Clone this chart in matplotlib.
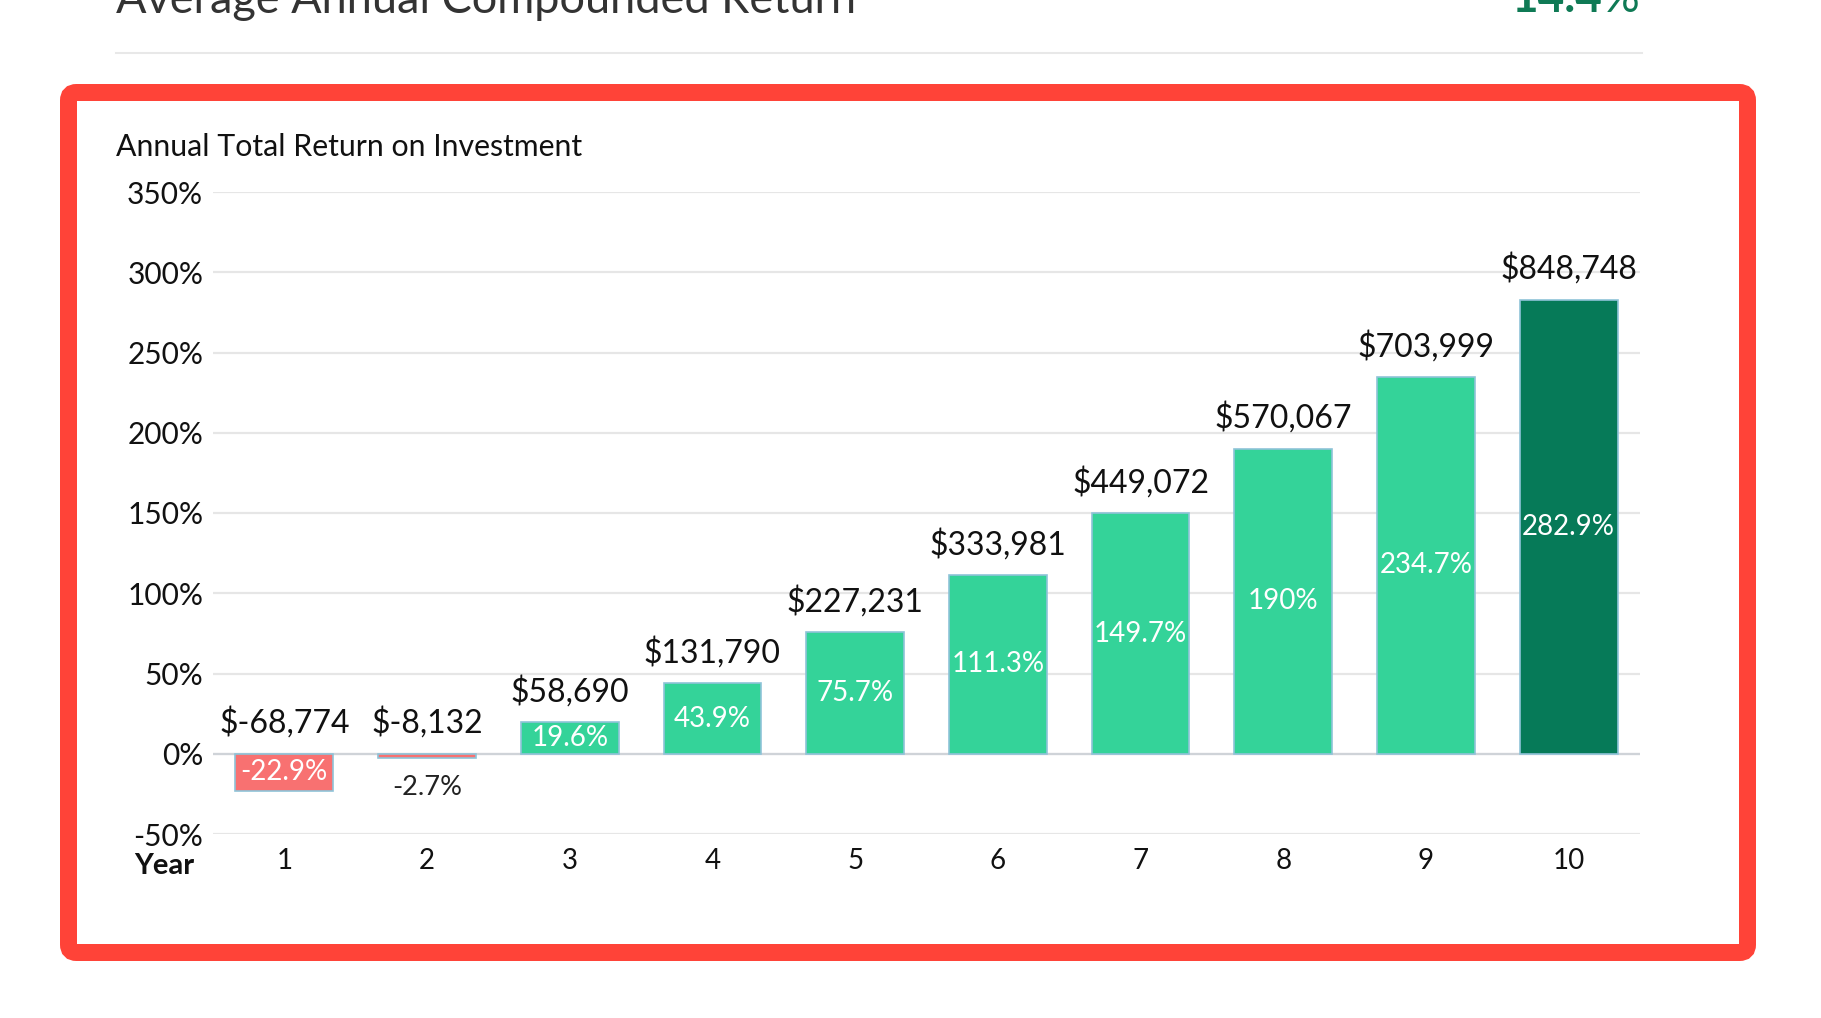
import numpy as np
import matplotlib.pyplot as plt
from matplotlib.patches import FancyBboxPatch

plt.rcParams['font.family'] = ['Lato', 'DejaVu Sans']

# ---------------------------
# DATA
# ---------------------------
years = [1, 2, 3, 4, 5, 6, 7, 8, 9, 10]
returns_pct = [-22.9, -2.7, 19.6, 43.9, 75.7, 111.3, 149.7, 190, 234.7, 282.9]
return_labels = ["-22.9%", "-2.7%", "19.6%", "43.9%", "75.7%",
                 "111.3%", "149.7%", "190%", "234.7%", "282.9%"]
dollar_labels = ["$-68,774", "$-8,132", "$58,690", "$131,790", "$227,231",
                 "$333,981", "$449,072", "$570,067", "$703,999", "$848,748"]
y_ticks = [-50, 0, 50, 100, 150, 200, 250, 300, 350]
y_tick_labels = ["-50%", "0%", "50%", "100%", "150%", "200%", "250%", "300%", "350%"]
avg_return_num = "14.4"

GREEN = "#34d399"
DARK_GREEN = "#067a58"
RED = "#f87171"
EDGE = "#8fc3d8"

W, H = 1821, 1018
fig = plt.figure(figsize=(W / 100, H / 100), dpi=100)

# header text above the card (partly cut off at the top, as in the page)
fig.text(116 / W, 1 - 13 / H, "Average Annual Compounded Return", fontsize=32.5,
         color="#333333", ha="left", va="baseline")
pct = fig.text(1640 / W, 1 - 12 / H, "%", fontsize=33,
               color="#0f7a55", ha="right", va="baseline")
fig.canvas.draw()
pct_left = pct.get_window_extent().x0
fig.text((pct_left - 1) / W, 1 - 12 / H, avg_return_num, fontsize=33,
         fontweight="bold", color="#0f7a55", ha="right", va="baseline")
fig.add_artist(plt.Line2D([116 / W, 1642 / W], [1 - 53 / H, 1 - 53 / H],
                          color="#e8e8e8", lw=1.5, transform=fig.transFigure))

# red frame around the chart card
frame = FancyBboxPatch((68.5 / 100, (H - 952.5) / 100), 1679 / 100, 860 / 100,
                       boxstyle="round,pad=0,rounding_size=0.08",
                       transform=fig.dpi_scale_trans, fill=False,
                       ec="#ff4338", lw=17 * 0.72)
fig.add_artist(frame)

fig.text(116 / W, 1 - 156 / H, "Annual Total Return on Investment", fontsize=21.8,
         color="#111111", ha="left", va="baseline")

# ---------------------------
# BAR CHART
# ---------------------------
ax = fig.add_axes([213 / W, 1 - 834 / H, (1640 - 213) / W, (834 - 192) / H])
colors = [RED if v < 0 else GREEN for v in returns_pct]
colors[-1] = DARK_GREEN
ax.bar(years, returns_pct, width=0.685, color=colors, edgecolor=EDGE,
       linewidth=1.2, zorder=3)

ax.set_xlim(0.5, 10.5)
ax.set_ylim(-50, 350)
ax.set_yticks(y_ticks)
ax.set_yticklabels(y_tick_labels)
ax.set_xticks(years)
ax.set_xticklabels([str(y) for y in years])
ax.tick_params(axis="both", length=0, labelsize=21.5, colors="#111111")
ax.tick_params(axis="y", pad=7)
ax.tick_params(axis="x", labelsize=20, pad=10)
for s in ax.spines.values():
    s.set_visible(False)
ax.yaxis.grid(True, color="#e6e6e6", lw=1.6, zorder=0)
ax.axhline(0, color="#cfd3d8", lw=1.6, zorder=2)

for x, v, rl, dl in zip(years, returns_pct, return_labels, dollar_labels):
    ax.annotate(dl, (x, max(v, 0)), xytext=(0, 15), textcoords="offset points",
                ha="center", va="baseline", fontsize=23, color="#111111")
    if abs(v) < 10:
        ax.annotate(rl, (x, v), xytext=(0, -21), textcoords="offset points",
                    ha="center", va="center", fontsize=19.5, color="#222222")
    else:
        ax.text(x, v / 2, rl, ha="center", va="center", fontsize=20,
                color="white", zorder=4)

fig.text(134 / W, 1 - 866 / H, "Year", fontsize=21, fontweight="bold",
         color="#111111", ha="left", va="center")

fig.savefig("out.png", dpi=100, facecolor="white")
